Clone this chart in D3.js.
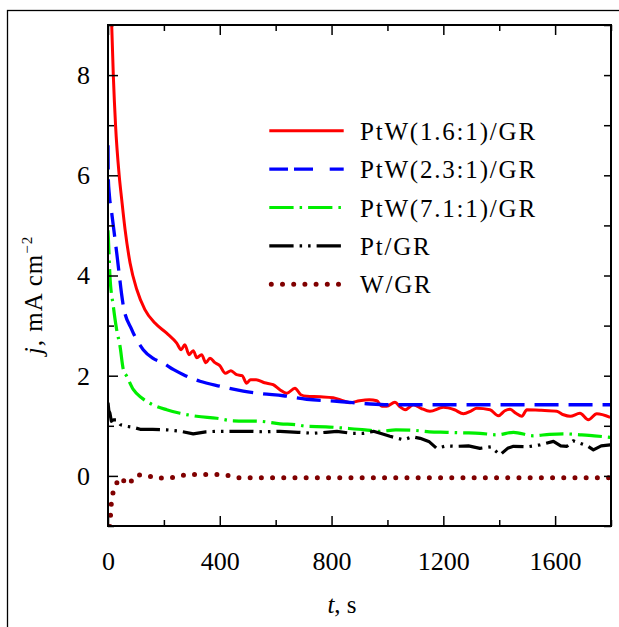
<!DOCTYPE html>
<html>
<head>
<meta charset="utf-8">
<script src="https://cdn.jsdelivr.net/npm/d3@7"></script>
<style>
  html, body { margin: 0; padding: 0; background: #fff; }
  svg { display: block; }
  .tick text { font-family: "Liberation Serif", "Times New Roman", serif; font-size: 26px; fill: #000; }
</style>
</head>
<body>
<svg id="chart" width="619" height="627"></svg>
<script>
// ---------- data ----------
const seriesNames = ["PtW(1.6:1)/GR", "PtW(2.3:1)/GR", "PtW(7.1:1)/GR", "Pt/GR", "W/GR"];
const seriesColors = ["#ff0000", "#0000ff", "#00ee00", "#000000", "#800000"];

const tRed = [8, 13, 19, 27, 40, 49, 61, 79, 103, 132, 168, 210, 246, 262, 275, 290, 305, 318, 335, 350, 365, 383, 400, 420, 440, 460, 480, 496, 510, 530, 560, 591, 615, 640, 669, 690, 711, 760, 806, 840, 866, 900, 935, 962, 980, 997, 1027, 1045, 1063, 1093, 1120, 1152, 1200, 1240, 1272, 1300, 1319, 1367, 1397, 1420, 1439, 1460, 1481, 1499, 1550, 1606, 1630, 1654, 1689, 1719, 1749, 1797];
const jRed = [10.2, 9.04, 8, 7, 6, 5.52, 4.92, 4.25, 3.72, 3.32, 3.05, 2.85, 2.65, 2.52, 2.62, 2.42, 2.5, 2.36, 2.42, 2.26, 2.35, 2.26, 2.2, 2.05, 2.1, 2.02, 2.0, 1.85, 1.92, 1.92, 1.86, 1.82, 1.72, 1.65, 1.75, 1.62, 1.59, 1.58, 1.56, 1.5, 1.46, 1.5, 1.52, 1.5, 1.39, 1.39, 1.47, 1.38, 1.32, 1.42, 1.35, 1.29, 1.37, 1.32, 1.24, 1.3, 1.35, 1.32, 1.2, 1.3, 1.33, 1.25, 1.19, 1.32, 1.31, 1.29, 1.22, 1.19, 1.25, 1.12, 1.24, 1.17];

const tBlue = [0, 1, 5, 13, 31, 55, 85, 126, 160, 198, 235, 270, 329, 401, 484, 550, 627, 711, 819, 926, 1000, 1100, 1300, 1500, 1800];
const jBlue = [6.6, 5.95, 5.6, 5.26, 4.46, 3.39, 2.92, 2.52, 2.35, 2.25, 2.12, 2.02, 1.89, 1.79, 1.69, 1.64, 1.6, 1.53, 1.49, 1.44, 1.42, 1.42, 1.42, 1.42, 1.42];

const tGreen = [0, 1, 7, 19, 30, 43, 55, 67, 91, 120, 150, 210, 258, 317, 389, 448, 544, 616, 675, 711, 780, 854, 920, 973, 1030, 1093, 1150, 1212, 1270, 1331, 1391, 1451, 1522, 1580, 1630, 1689, 1740, 1797];
const jGreen = [4.9, 4.79, 3.99, 3.39, 2.95, 2.59, 2.12, 1.99, 1.72, 1.56, 1.45, 1.32, 1.25, 1.19, 1.15, 1.1, 1.09, 1.04, 1.02, 0.99, 0.98, 0.95, 0.92, 0.89, 0.92, 0.91, 0.88, 0.87, 0.86, 0.85, 0.82, 0.87, 0.8, 0.83, 0.84, 0.82, 0.8, 0.77];

const tBlack = [0, 3, 7, 12, 20, 31, 45, 67, 90, 115, 160, 210, 260, 305, 350, 389, 450, 508, 560, 616, 680, 735, 780, 819, 870, 914, 950, 980, 1009, 1057, 1090, 1117, 1150, 1176, 1210, 1248, 1290, 1331, 1370, 1403, 1430, 1451, 1500, 1546, 1594, 1620, 1642, 1665, 1689, 1715, 1737, 1765, 1797];
const jBlack = [1.46, 1.3, 1.25, 1.09, 1.12, 1.12, 1.02, 0.99, 0.97, 0.93, 0.93, 0.92, 0.89, 0.84, 0.88, 0.89, 0.89, 0.89, 0.88, 0.89, 0.87, 0.85, 0.87, 0.89, 0.85, 0.85, 0.89, 0.84, 0.79, 0.72, 0.78, 0.75, 0.68, 0.55, 0.6, 0.59, 0.6, 0.55, 0.58, 0.42, 0.55, 0.59, 0.58, 0.62, 0.69, 0.6, 0.59, 0.7, 0.65, 0.6, 0.52, 0.6, 0.62];

const tBrown = [7, 10, 13, 22, 43, 73, 100, 136, 174, 210, 243, 282, 318, 351, 386, 422, 461, 1800];
const jBrown = [-1.01, -0.68, -0.47, -0.23, -0.03, -0.18, 0.02, 0.02, -0.05, -0.03, -0.03, 0.03, 0.03, 0.03, 0.03, 0.02, -0.035, -0.035];

const xMajorTicks = [0, 400, 800, 1200, 1600];
const xMinorTicks = [200, 600, 1000, 1400, 1800];
const yMajorTicks = [0, 2, 4, 6, 8];
const yMinorTicks = [-1, 1, 3, 5, 7, 9];

// ---------- layout ----------
const svg = d3.select("#chart");
const L = 108, R = 611, T = 25, B = 526;
const x = d3.scaleLinear().domain([0, 1800]).range([L, R]);
const y = d3.scaleLinear().domain([-1, 9]).range([B, T]);

// outer frame
svg.append("rect").attr("x", 7.5).attr("y", 10.5).attr("width", 700).attr("height", 700)
  .attr("fill", "none").attr("stroke", "#000").attr("stroke-width", 1.3);

// clip
svg.append("clipPath").attr("id", "clip").append("rect")
  .attr("x", L).attr("y", T).attr("width", R - L).attr("height", B - T);

const zip = (a, b) => a.map((v, i) => [v, b[i]]);
const seriesData = [zip(tRed, jRed), zip(tBlue, jBlue), zip(tGreen, jGreen), zip(tBlack, jBlack), zip(tBrown, jBrown)];
const dashes = [null, "24,10", "24,6,2.5,6", "24,6,2.5,6,2.5,6", "0,11.2"];
const widths = [3, 3.3, 3.2, 3.2, 5];
const curves = [d3.curveMonotoneX, d3.curveMonotoneX, d3.curveMonotoneX, d3.curveLinear, d3.curveLinear];

const plot = svg.append("g").attr("clip-path", "url(#clip)");
seriesData.forEach((d, i) => {
  const line = d3.line().x(p => x(p[0])).y(p => y(p[1])).curve(curves[i]);
  plot.append("path").datum(d).attr("d", line)
    .attr("fill", "none").attr("stroke", seriesColors[i]).attr("stroke-width", widths[i])
    .attr("stroke-dasharray", dashes[i])
    .attr("stroke-linecap", i === 4 ? "round" : "butt")
    .attr("stroke-linejoin", "round");
});

// axes
function styleAxis(g) {
  g.select(".domain").remove();
  g.selectAll(".tick line").attr("stroke", "#000").attr("stroke-width", 1.5);
}
svg.append("g").attr("transform", `translate(0,${B})`)
  .call(d3.axisBottom(x).tickValues(xMajorTicks).tickSize(-10).tickFormat(d3.format("d")))
  .call(styleAxis)
  .call(g => g.selectAll(".tick text").attr("y", 44).attr("dy", 0));
svg.append("g").attr("transform", `translate(0,${B})`)
  .call(d3.axisBottom(x).tickValues(xMinorTicks).tickSize(-6).tickFormat(""))
  .call(styleAxis);
svg.append("g").attr("transform", `translate(0,${T})`)
  .call(d3.axisTop(x).tickValues(xMajorTicks).tickSize(-10).tickFormat(""))
  .call(styleAxis);
svg.append("g").attr("transform", `translate(0,${T})`)
  .call(d3.axisTop(x).tickValues(xMinorTicks).tickSize(-6).tickFormat(""))
  .call(styleAxis);
svg.append("g").attr("transform", `translate(${L},0)`)
  .call(d3.axisLeft(y).tickValues(yMajorTicks).tickSize(-10).tickPadding(18).tickFormat(d3.format("d")))
  .call(styleAxis)
  .call(g => g.selectAll(".tick text").attr("dy", "0.32em"));
svg.append("g").attr("transform", `translate(${L},0)`)
  .call(d3.axisLeft(y).tickValues(yMinorTicks).tickSize(-6).tickFormat(""))
  .call(styleAxis);
svg.append("g").attr("transform", `translate(${R},0)`)
  .call(d3.axisRight(y).tickValues(yMajorTicks).tickSize(-7).tickFormat(""))
  .call(styleAxis);
svg.append("g").attr("transform", `translate(${R},0)`)
  .call(d3.axisRight(y).tickValues(yMinorTicks).tickSize(-7).tickFormat(""))
  .call(styleAxis);

// plot frame
svg.append("rect").attr("x", L).attr("y", T).attr("width", R - L).attr("height", B - T)
  .attr("fill", "none").attr("stroke", "#000").attr("stroke-width", 2);

// axis titles
const serif = '"Liberation Serif", "Times New Roman", serif';
const xt = svg.append("text").attr("x", 342).attr("y", 613).attr("text-anchor", "middle")
  .attr("font-family", serif).attr("font-size", 25).attr("fill", "#000");
xt.append("tspan").attr("font-style", "italic").text("t");
xt.append("tspan").text(", s");

const yt = svg.append("text").attr("transform", "translate(42,295) rotate(-90)")
  .attr("text-anchor", "middle").attr("font-family", serif).attr("font-size", 25)
  .attr("letter-spacing", 1).attr("fill", "#000");
yt.append("tspan").attr("font-style", "italic").text("j");
yt.append("tspan").text(", mA cm");
yt.append("tspan").attr("font-size", 15).attr("dy", -10).text("\u22122");

// legend
const legY0 = 130.7, legStep = 38.4;
const legDash = [null, "18.7,6,19,16.7,14,100", "24.3,6,2.5,6", "24.3,6,2.5,6,2.5,6", "0,11.2"];
seriesNames.forEach((name, i) => {
  const yy = legY0 + i * legStep;
  const x1 = i === 4 ? 271.3 : 269.3, x2 = i === 4 ? 339 : 343.7;
  svg.append("line").attr("x1", x1).attr("x2", x2).attr("y1", yy).attr("y2", yy)
    .attr("stroke", seriesColors[i]).attr("stroke-width", widths[i])
    .attr("stroke-dasharray", legDash[i])
    .attr("stroke-linecap", i === 4 ? "round" : "butt");
  svg.append("text").attr("x", 360).attr("y", yy + 9)
    .attr("font-family", serif).attr("font-size", 25).attr("letter-spacing", 1.8)
    .attr("fill", "#000").text(name);
});
</script>
</body>
</html>
